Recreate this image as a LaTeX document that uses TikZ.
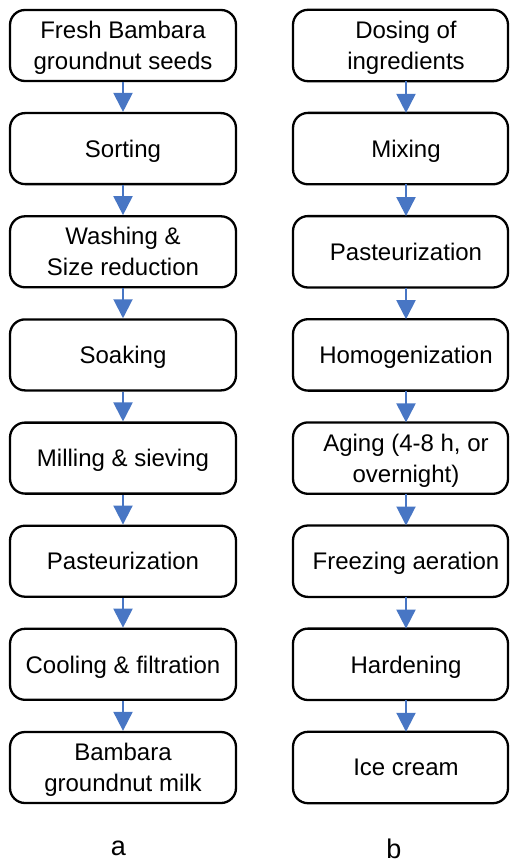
\documentclass[tikz,border=0pt]{standalone}
\usepackage{fontspec}
\setmainfont{Liberation Sans}
\usetikzlibrary{arrows.meta,calc}
\definecolor{arrowblue}{RGB}{72,118,196}
\tikzset{
  stepbox/.style={draw=black, line width=2.3pt, rounded corners=15pt,
    minimum width=226pt, minimum height=71pt, align=center, inner sep=0pt,
    text depth=0pt, font=\fontsize{24}{31}\selectfont},
  textslot/.style={minimum height=71pt, minimum width=200pt, align=center, inner sep=0pt,
    text depth=0pt, font=\fontsize{24}{31}\selectfont},
  boxframe/.style={draw=black, line width=2.3pt, rounded corners=15pt},
  flow/.style={draw=arrowblue, line width=2pt, -{Triangle[width=19pt,length=19pt]}},
  caplabel/.style={font=\fontsize{27}{32}\selectfont, anchor=base, inner sep=0pt}
}
\begin{document}
\begin{tikzpicture}[x=1pt,y=-1pt]
\useasboundingbox (0,0) rectangle (510,864);
% left column
\node[stepbox] (a1) at (123,45.5)  {Fresh Bambara\\groundnut seeds};
\node[stepbox] (a2) at (123,148.6) {Sorting};
\node[stepbox] (a3) at (123,251.8) {Washing \&\\Size reduction};
\node[stepbox] (a4) at (123,354.9) {Soaking};
\node[stepbox] (a5) at (123,458.1) {Milling \& sieving};
\node[stepbox] (a6) at (123,561.2) {Pasteurization};
\node[stepbox] (a7) at (123,664.3) {Cooling \& filtration};
\node[stepbox] (a8) at (123,767.5) {Bambara\\groundnut milk};
% right column
\node[textslot] (b1) at (406,45.5)  {Dosing of\\ingredients};
\node[textslot] (b2) at (406,148.6) {Mixing};
\node[textslot] (b3) at (406,251.8) {Pasteurization};
\node[textslot] (b4) at (406,354.9) {Homogenization};
\node[textslot] (b5) at (406,458.1) {Aging (4-8 h, or\\overnight)};
\node[textslot] (b6) at (406,561.2) {Freezing aeration};
\node[textslot] (b7) at (406,664.3) {Hardening};
\node[textslot] (b8) at (406,767.5) {Ice cream};
\foreach \n in {1,...,8}{
  \draw[boxframe] ($(b\n.north)+(-113,0)$) rectangle ($(b\n.south)+(102,0)$);
}
% arrows
\foreach \i [count=\j from 2] in {1,...,7}{
  \draw[flow] (a\i.south) -- (a\j.north);
  \draw[flow] (b\i.south) -- (b\j.north);
}
% captions
\node[caplabel] (la) at (118.5,855) {a};
\node[caplabel] (lb) at (394,858) {b};
\end{tikzpicture}
\end{document}
